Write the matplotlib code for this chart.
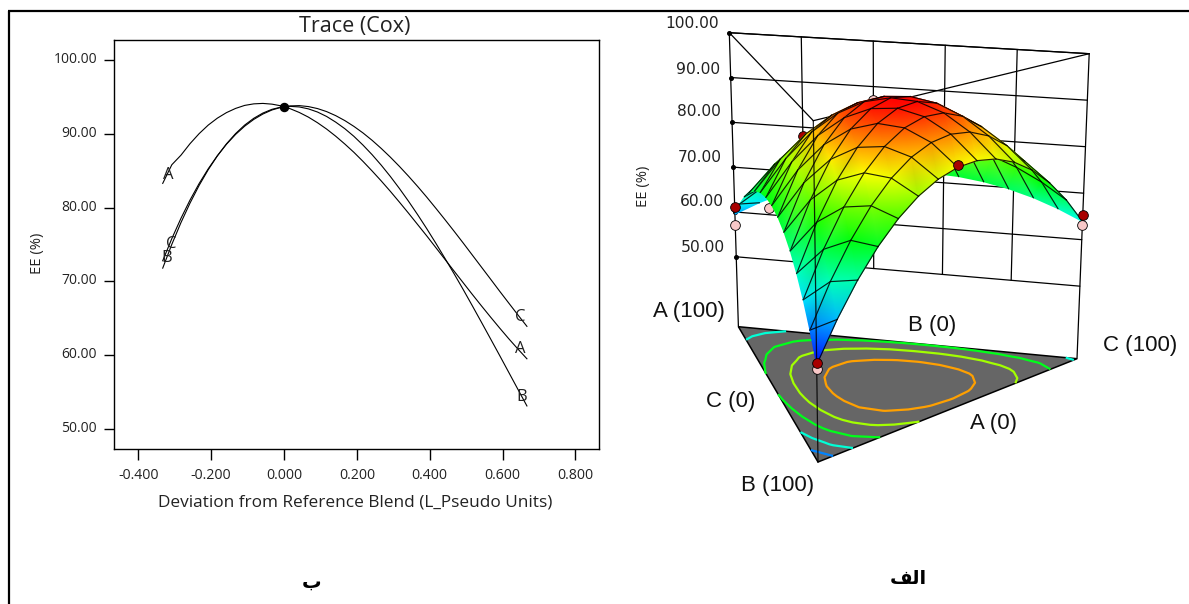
import numpy as np
import matplotlib
matplotlib.use("Agg")
import matplotlib.pyplot as plt
from matplotlib.colors import LinearSegmentedColormap
from matplotlib.transforms import ScaledTranslation
from matplotlib.tri import Triangulation

# ---------- trace plot data ----------
trace_dev = [-0.333, -0.308, -0.283, -0.258, -0.233, -0.208, -0.183, -0.158, -0.133, -0.108, -0.083,
             -0.058, -0.033, -0.008, 0.017, 0.042, 0.067, 0.092, 0.117, 0.142, 0.167,
             0.192, 0.217, 0.242, 0.267, 0.292, 0.317, 0.342, 0.367, 0.392, 0.417,
             0.442, 0.467, 0.492, 0.517, 0.542, 0.567, 0.592, 0.617, 0.642, 0.667]
trace_a = [83.3, 85.83, 87.12, 88.69, 90.05, 91.21, 92.15, 92.9, 93.47, 93.88, 94.09,
           94.15, 94.05, 93.82, 93.43, 92.92, 92.29, 91.53, 90.67, 89.7, 88.64,
           87.51, 86.28, 84.98, 83.63, 82.22, 80.75, 79.25, 77.71, 76.17, 74.58,
           72.99, 71.4, 69.82, 68.24, 66.69, 65.17, 63.68, 62.23, 60.84, 59.5]
trace_b = [71.8, 75.03, 77.97, 80.63, 83.03, 85.16, 87.03, 88.66, 90.05, 91.21, 92.13,
           92.84, 93.35, 93.65, 93.75, 93.67, 93.41, 92.98, 92.38, 91.61, 90.72,
           89.68, 88.49, 87.19, 85.77, 84.24, 82.6, 80.87, 79.05, 77.15, 75.17,
           73.12, 71.04, 68.9, 66.7, 64.47, 62.22, 59.96, 57.67, 55.38, 53.1]
trace_c = [72.8, 75.81, 78.55, 81.04, 83.28, 85.28, 87.05, 88.61, 89.94, 91.06, 91.98,
           92.71, 93.26, 93.62, 93.81, 93.85, 93.72, 93.45, 93.04, 92.49, 91.82,
           91.03, 90.14, 89.14, 88.04, 86.86, 85.6, 84.27, 82.88, 81.43, 79.92,
           78.38, 76.81, 75.21, 73.58, 71.95, 70.32, 68.68, 67.07, 65.47, 63.9]
ref_dev, ref_ee = 0.0, 93.7
x_ticks = [-0.4, -0.2, 0.0, 0.2, 0.4, 0.6, 0.8]
y_ticks = [50, 60, 70, 80, 90, 100]

# ---------- ternary surface heights: one list per B level, running from C=0 to C=max ----------
ee_b00 = [59.5, 62.49, 65.07, 67.24, 69.0, 70.35, 71.27, 71.8, 71.9, 71.6, 70.88, 69.75, 68.22, 66.26, 63.9]
ee_b01 = [63.42, 67.8, 71.53, 74.61, 77.03, 78.82, 79.94, 80.42, 80.27, 79.45, 77.99, 75.87, 73.12, 69.7]
ee_b02 = [66.66, 72.18, 76.82, 80.58, 83.44, 85.42, 86.53, 86.73, 86.06, 84.49, 82.05, 78.72, 74.5]
ee_b03 = [69.24, 75.67, 80.98, 85.17, 88.24, 90.18, 91.0, 90.7, 89.28, 86.74, 83.07, 78.28]
ee_b04 = [71.14, 78.24, 84.0, 88.38, 91.4, 93.08, 93.39, 92.35, 89.93, 86.18, 81.05]
ee_b05 = [72.37, 79.91, 85.87, 90.21, 92.97, 94.13, 93.7, 91.67, 88.04, 82.82]
ee_b06 = [72.92, 80.66, 86.57, 90.65, 92.89, 93.31, 91.9, 88.65, 83.57]
ee_b07 = [72.8, 80.5, 86.14, 89.71, 91.21, 90.64, 88.0, 83.3]
ee_b08 = [72.0, 79.43, 84.57, 87.38, 87.9, 86.11, 82.02]
ee_b09 = [70.54, 77.46, 81.84, 83.68, 82.98, 79.73]
ee_b10 = [68.4, 74.58, 77.97, 78.6, 76.43]
ee_b11 = [65.58, 70.77, 72.94, 72.11]
ee_b12 = [62.1, 66.08, 66.79]
ee_b13 = [57.94, 60.45]
ee_b14 = [53.1]
surface_rows = [ee_b00, ee_b01, ee_b02, ee_b03, ee_b04, ee_b05, ee_b06, ee_b07, ee_b08, ee_b09,
                ee_b10, ee_b11, ee_b12, ee_b13, ee_b14]

contour_levels = [58.5, 65.0, 72.5, 80.0, 87.5]
z_ticks = [50, 60, 70, 80, 90, 100]

# design points: A, B, C fractions and height
above_a = [1.0, 0.0, 0.0, 0.0]
above_b = [0.0, 1.0, 0.0, 0.5]
above_c = [0.0, 0.0, 1.0, 0.5]
above_z = [61.0, 53.4, 65.2, 83.7]
below_a = [1.0, 0.0, 0.0]
below_b = [0.0, 1.0, 0.0]
below_c = [0.0, 0.0, 1.0]
below_z = [57.1, 52.2, 63.1]
hidden_red = (0.8, 0.0, 0.2, 78.0)
hidden_pink = [(0.9, 0.0, 0.1, 61.5), (0.6, 0.0, 0.4, 87.0)]

# ---------- layout (pixels) ----------
W, H = 1189, 604
fig = plt.figure(figsize=(W / 100, H / 100), dpi=100, facecolor="white")
over = fig.add_axes([0, 0, 1, 1], zorder=3)
over.set_xlim(0, W); over.set_ylim(H, 0); over.axis("off"); over.patch.set_alpha(0)

BASE = np.array([[738.4, 326.7], [818.0, 462.0], [1077.0, 358.7]])
TOP = np.array([[729.3, 32.7], [813.3, 120.7], [1089.2, 53.7]])
PERSP = np.array([1.118, 1.0, 1.118])
Z0, Z1 = 34.4, 100.0


def project(a, b, c, z):
    a, b, c, z = map(lambda v: np.asarray(v, float), (a, b, c, z))
    t = (z - Z0) / (Z1 - Z0)
    wa, wb, wc = a * PERSP[0], b * PERSP[1], c * PERSP[2]
    s = wa + wb + wc
    out = []
    for d in (0, 1):
        v = [BASE[i, d] * (1 - t) + TOP[i, d] * t for i in range(3)]
        out.append((wa * v[0] + wb * v[1] + wc * v[2]) / s)
    return out[0], out[1]


FONT_SEG = "Open Sans"
FONT_ARIAL = "Liberation Sans"

# frame
over.plot([8.7, 8.7], [H, 10.7], color="k", lw=1.6, solid_capstyle="butt", zorder=1)
over.plot([8, W], [10.7, 10.7], color="k", lw=1.6, solid_capstyle="butt", zorder=1)

# ---------- left axes ----------
L, R, T, B = 113.5, 599.0, 40.3, 449.3
ax = fig.add_axes([L / W, 1 - B / H, (R - L) / W, (B - T) / H], zorder=2)
PX_X = 364.2
PX_Y = 7.37
ax.set_xlim((L - 284.0) / PX_X, (R - 284.0) / PX_X)
ax.set_ylim(100 - (B - 60.3) / PX_Y, 100 + (60.3 - T) / PX_Y)
for s in ax.spines.values():
    s.set_linewidth(1.0)
ax.set_xticks(x_ticks)
ax.set_xticklabels([f"{v:.3f}" for v in x_ticks], fontfamily=FONT_SEG, fontsize=10.2, color="#222222")
ax.set_yticks(y_ticks)
ax.set_yticklabels([f"{v:.2f}" for v in y_ticks], fontfamily=FONT_SEG, fontsize=10.0, color="#222222")
ax.tick_params(axis="x", length=8.0, width=1.0, pad=5.5)
ax.tick_params(axis="y", length=7.2, width=1.0, pad=4.6)
for lbl in ax.get_yticklabels():
    lbl.set_transform(lbl.get_transform() + ScaledTranslation(0, 2.6 / 100, fig.dpi_scale_trans))
for series in (trace_a, trace_b, trace_c):
    ax.plot(trace_dev, series, color="k", lw=0.8, zorder=2)
ax.plot([ref_dev], [ref_ee], "o", color="k", ms=5.8, zorder=3)
label_style = dict(fontfamily=FONT_SEG, fontsize=12, ha="center", va="center", color="#222222")
for name, x, y in [("A", 168, 174.7), ("C", 170.8, 244), ("B", 167, 258), ("C", 520.5, 316.7), ("A", 519.8, 349), ("B", 521.4, 397)]:
    over.text(x, y, name, **label_style)
over.text(354.5, 26.7, "Trace (Cox)", fontfamily=FONT_SEG, fontsize=15.5, ha="center", va="center", color="#222222")
over.text(355, 502.7, "Deviation from Reference Blend (L_Pseudo Units)", fontfamily=FONT_SEG, fontsize=12.4,
          ha="center", va="center", color="#222222")
over.text(37.5, 253, "EE (%)", rotation=90, fontfamily=FONT_SEG, fontsize=10.6, ha="center", va="center", color="#222222")

# ---------- 3D panel ----------
cmap = LinearSegmentedColormap.from_list("ee", ["#0000ff", "#00ffff", "#00ff00", "#ffff00", "#ff0000"])
vmin, vmax = 53.1, 94.0
N = len(surface_rows) - 1
index = {}
na, nb, nc, nz = [], [], [], []
for j, row in enumerate(surface_rows):
    for k, val in enumerate(row):
        index[(j, k)] = len(nz)
        nb.append(j / N); nc.append(k / N); na.append((N - j - k) / N); nz.append(val)
na, nb, nc, nz = map(np.array, (na, nb, nc, nz))
px, py = project(na, nb, nc, nz)
bx, by = project(na, nb, nc, np.full_like(nz, Z0))

edge = dict(color="k", lw=0.9, solid_capstyle="round")
# walls
for lv in z_ticks:
    x, y = project([1, 0], [0, 0], [0, 1], [lv, lv])
    over.plot(x, y, zorder=3, **edge)
    over.plot(x[0], y[0], "o", color="k", ms=2.6, zorder=3)
for s in (0.2, 0.4, 0.6, 0.8):
    x, y = project([1 - s] * 2, [0, 0], [s, s], [50, 100])
    over.plot(x, y, zorder=3, **edge)
for a, b, c in [(1, 0, 0), (0, 0, 1)]:
    x, y = project([a, a], [b, b], [c, c], [Z0, Z1])
    over.plot(x, y, zorder=3, **edge)
for p, q in [((1, 0, 0), (0, 0, 1)), ((1, 0, 0), (0, 1, 0)), ((0, 1, 0), (0, 0, 1))]:
    x, y = project([p[0], q[0]], [p[1], q[1]], [p[2], q[2]], [Z1, Z1])
    over.plot(x, y, zorder=3, **edge)

# floor
fx, fy = project([1, 0, 0], [0, 1, 0], [0, 0, 1], [Z0] * 3)
over.fill(fx, fy, facecolor="#666666", edgecolor="k", lw=1.1, zorder=4)
floor_tris = []
for (j, k), n in index.items():
    if (j, k + 1) in index and (j + 1, k) in index:
        floor_tris.append([n, index[(j, k + 1)], index[(j + 1, k)]])
    if (j + 1, k) in index and (j, k + 1) in index and (j + 1, k + 1) in index:
        floor_tris.append([index[(j + 1, k)], index[(j, k + 1)], index[(j + 1, k + 1)]])
tri_floor = Triangulation(bx, by, floor_tris)
over.tricontour(tri_floor, nz, levels=contour_levels, colors=[cmap((v - vmin) / (vmax - vmin)) for v in contour_levels],
                linewidths=1.6, zorder=5)

# points behind the surface
def dot(a, b, c, z, color, zorder):
    x, y = project(a, b, c, z)
    over.plot([x], [y], "o", ms=7, mfc=color, mec="k", mew=0.6, zorder=zorder)

dot(*hidden_red, "#a80000", 6)
for p in hidden_pink:
    dot(*p, "#f8c8c8", 6)

# surface, far rows first; mesh lines of constant B and of constant A
for j in range(N):
    tris, const_a = [], []
    for k in range(len(surface_rows[j + 1])):
        p0, p1, p2 = index[(j, k)], index[(j, k + 1)], index[(j + 1, k)]
        tris.append([p0, p1, p2])
        const_a.append((p1, p2))
        if (j + 1, k + 1) in index:
            tris.append([p2, p1, index[(j + 1, k + 1)]])
    z = 10 + 3 * j
    over.tripcolor(px, py, tris, nz, shading="gouraud", cmap=cmap, vmin=vmin, vmax=vmax, zorder=z)
    for p, q in const_a:
        over.plot([px[p], px[q]], [py[p], py[q]], color="k", lw=0.85, alpha=0.85, zorder=z + 1)
    rx = [px[index[(j + 1, k)]] for k in range(len(surface_rows[j + 1]))]
    ry = [py[index[(j + 1, k)]] for k in range(len(surface_rows[j + 1]))]
    over.plot(rx, ry, color="k", lw=0.85, alpha=0.85, zorder=z + 4)

# front edge
x, y = project([0, 0], [1, 1], [0, 0], [Z0, Z1])
over.plot(x, y, zorder=60, color="k", lw=0.9, alpha=0.85)

# design points visible in front
for a, b, c, v in zip(below_a, below_b, below_c, below_z):
    dot(a, b, c, v, "#f8c8c8", 61)
for a, b, c, v in zip(above_a, above_b, above_c, above_z):
    dot(a, b, c, v, "#a80000", 62)

# z tick labels
for lv, x, y in zip(z_ticks, [725, 724, 722, 721, 719.8, 718.8], [247, 202, 157, 112, 69, 23.3]):
    over.text(x, y, f"{lv:.2f}", fontfamily="DejaVu Sans", fontsize=11.2, ha="right", va="center", color="#222222")
over.text(644, 186, "EE (%)", rotation=90, fontfamily=FONT_SEG, fontsize=10.6, ha="center", va="center", color="#222222")
corner_style = dict(fontfamily=FONT_ARIAL, fontsize=16, ha="center", va="center", color="#111111")
over.text(689, 311, "A (100)", **corner_style)
over.text(1140, 346, "C (100)", **corner_style)
over.text(778, 486, "B (100)", **corner_style)
over.text(932, 325, "B (0)", **corner_style)
over.text(731, 402, "C (0)", **corner_style)
over.text(993, 424, "A (0)", **corner_style)

# panel captions (Arabic, in shaped contextual forms, left-to-right glyph order)
over.text(908.6, 578, "\ufed2\ufedf\ufe8d", fontfamily="DejaVu Sans", fontweight="bold", fontsize=14, ha="center", va="center", color="k")
over.text(312, 582, "\ufe8f", fontfamily="DejaVu Sans", fontweight="bold", fontsize=14, ha="center", va="center", color="k")

over.set_xlim(0, W); over.set_ylim(H, 0)
fig.savefig("out.png", dpi=100, facecolor="white")
